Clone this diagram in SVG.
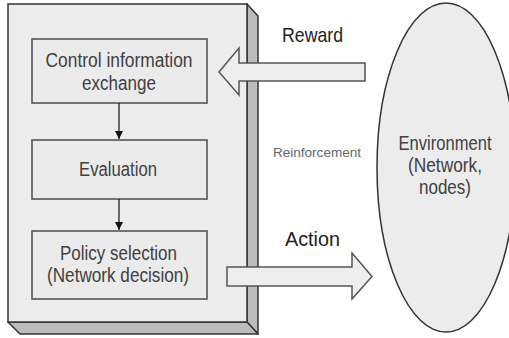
<svg xmlns="http://www.w3.org/2000/svg" width="509" height="338" viewBox="0 0 509 338">
  <style>
    .face { fill: #ececec; stroke: #333; stroke-width: 1.5; }
    .edge { fill: #bcbcbc; stroke: #333; stroke-width: 1.5; stroke-linejoin: round; }
    .box { fill: #ebebeb; stroke: #555; stroke-width: 1.6; }
    .label { font-family: "Liberation Sans", Arial, sans-serif; font-size: 20px; fill: #404040; text-anchor: middle; }
    .big { fill: #222; font-size: 21px; }
    .small { font-size: 12px; fill: #666; }
    .hollow { fill: #eeeeee; stroke: #555; stroke-width: 1.5; stroke-linejoin: miter; }
    .flow { stroke: #111; stroke-width: 1.2; fill: none; }
  </style>
  <defs>
    <marker id="tri" viewBox="0 0 10 10" refX="10" refY="5" markerWidth="8" markerHeight="8" markerUnits="userSpaceOnUse" orient="auto">
      <path d="M0,0 L10,5 L0,10 Z" fill="#111"/>
    </marker>
  </defs>

  <!-- agent slab: front face with side and bottom bevel -->
  <g id="agent">
    <polygon class="edge" points="247,4 258,16 258,334 247,322"/>
    <polygon class="edge" points="8,322 247,322 258,334 20,334"/>
    <rect class="face" x="8" y="4" width="239" height="318"/>
  </g>

  <!-- environment -->
  <g id="environment">
    <ellipse cx="446" cy="167.5" rx="69" ry="164.5" fill="#ececec" stroke="#333" stroke-width="1.5"/>
    <text class="label" x="445" y="150" textLength="93" lengthAdjust="spacingAndGlyphs">Environment</text>
    <text class="label" x="445" y="172" textLength="74" lengthAdjust="spacingAndGlyphs">(Network,</text>
    <text class="label" x="445" y="194" textLength="52" lengthAdjust="spacingAndGlyphs">nodes)</text>
  </g>

  <g id="control-info">
    <rect class="box" x="32" y="39" width="175" height="64"/>
    <text class="label" x="119" y="67" textLength="147" lengthAdjust="spacingAndGlyphs">Control information</text>
    <text class="label" x="119" y="90" textLength="74" lengthAdjust="spacingAndGlyphs">exchange</text>
  </g>

  <g id="evaluation">
    <rect class="box" x="32" y="140" width="175" height="59"/>
    <text class="label" x="118" y="176" textLength="78" lengthAdjust="spacingAndGlyphs">Evaluation</text>
  </g>

  <g id="policy">
    <rect class="box" x="32" y="231" width="175" height="68"/>
    <text class="label" x="118.5" y="260" textLength="117" lengthAdjust="spacingAndGlyphs">Policy selection</text>
    <text class="label" x="118" y="282" textLength="142" lengthAdjust="spacingAndGlyphs">(Network decision)</text>
  </g>

  <!-- connectors -->
  <g id="connectors">
    <line class="flow" x1="119" y1="103" x2="119" y2="139" marker-end="url(#tri)"/>
    <line class="flow" x1="119" y1="199" x2="119" y2="230" marker-end="url(#tri)"/>
    <!-- reward: environment back to agent -->
    <polygon class="hollow" points="365,63 239,63 239,48 219,72 239,95 239,81 365,81"/>
    <!-- action: agent out to environment -->
    <polygon class="hollow" points="227,267 352,267 352,253 372,276.5 352,299 352,286 227,286"/>
  </g>

  <g id="edge-labels">
    <text class="label big" x="312.5" y="42" textLength="61" lengthAdjust="spacingAndGlyphs">Reward</text>
    <text class="label small" x="317" y="157" textLength="88" lengthAdjust="spacingAndGlyphs">Reinforcement</text>
    <text class="label big" x="312.5" y="246" textLength="55" lengthAdjust="spacingAndGlyphs">Action</text>
  </g>
</svg>
